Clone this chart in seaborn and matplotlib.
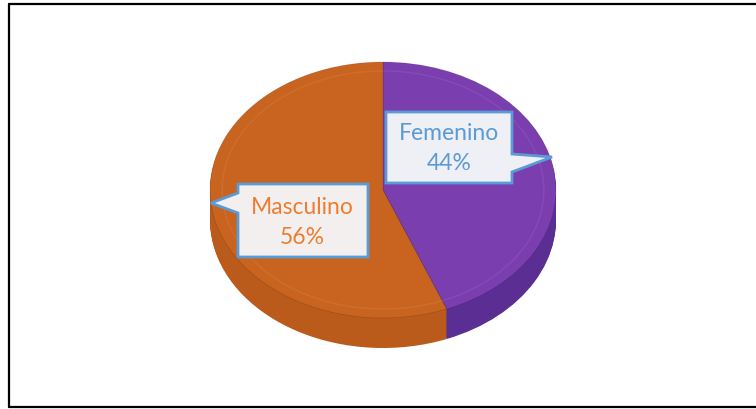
import matplotlib
matplotlib.use("Agg")
import matplotlib.pyplot as plt
import numpy as np
import seaborn as sns
from matplotlib.patches import Polygon

sns.set_theme(style="white")
plt.rcParams["font.family"] = ["Lato", "DejaVu Sans"]

# data
labels = ["Femenino", "Masculino"]
shares = [44, 56]
top_colors = ["#7A3EAE", "#C8641F"]
side_colors = ["#5A2E92", "#BA5B1C"]
text_colors = ["#5B9BD5", "#ED7D31"]

W, H = 756, 409
fig = plt.figure(figsize=(W / 100, H / 100), dpi=100)

# pie axes placed over the ellipse region (pixel box of the top face + depth)
cx, cy, rx, ry, depth = 383, 190, 173, 128, 30
x0, x1 = cx - rx, cx + rx
y_top, y_bot = cy - ry, cy + ry + depth
pie_ax = fig.add_axes([x0 / W, 1 - y_bot / H, (x1 - x0) / W, (y_bot - y_top) / H])

d = depth / ry
for off in np.linspace(-d, -0.01, 30):
    pie_ax.pie(shares, colors=side_colors, startangle=90, counterclock=False,
               center=(0, off), radius=1, frame=True,
               wedgeprops=dict(linewidth=0))
pie_ax.pie(shares, colors=top_colors, startangle=90, counterclock=False,
           center=(0, 0), radius=1, frame=True,
           wedgeprops=dict(linewidth=0.6, edgecolor="#00000022"))
# faint bevel ring on the top face
t = np.linspace(0, 2 * np.pi, 300)
pie_ax.plot(0.93 * np.cos(t), 0.93 * np.sin(t), color="#ffffff", alpha=0.07, lw=1)
pie_ax.set_aspect("auto")
pie_ax.set_xlim(-1, 1)
pie_ax.set_ylim(-1 - d, 1)
pie_ax.axis("off")

# overlay axes in pixel coordinates for frame and callouts
ov = fig.add_axes([0, 0, 1, 1])
ov.set_xlim(0, W)
ov.set_ylim(H, 0)
ov.axis("off")
ov.patch.set_alpha(0)

ov.plot([8.5, 8.5], [4, 407], color="black", lw=1.6)
ov.plot([8.5, W], [4, 4], color="black", lw=1.6)
ov.plot([8.5, W], [407, 407], color="black", lw=1.6)

callouts = [
    # (box polygon, text centre x, line ys, fill)
    ([(386, 112), (512, 112), (512, 154), (552, 157), (512, 172), (512, 183), (386, 183)],
     449, (133, 164), "#EFEFF6"),
    ([(238, 184), (368, 184), (368, 257), (238, 257), (238, 213), (211, 203), (238, 193)],
     302, (207, 238), "#F3EFEE"),
]
for (poly, tx, (ya, yb), fill), lab, val, col in zip(callouts, labels, shares, text_colors):
    ov.add_patch(Polygon(poly, closed=True, facecolor=fill, edgecolor="#5B9BD5", lw=2))
    ov.text(tx, ya, lab, color=col, fontsize=16.5, ha="center", va="center")
    ov.text(tx, yb, f"{val}%", color=col, fontsize=16.5, ha="center", va="center")

fig.savefig("out.png", dpi=100)
